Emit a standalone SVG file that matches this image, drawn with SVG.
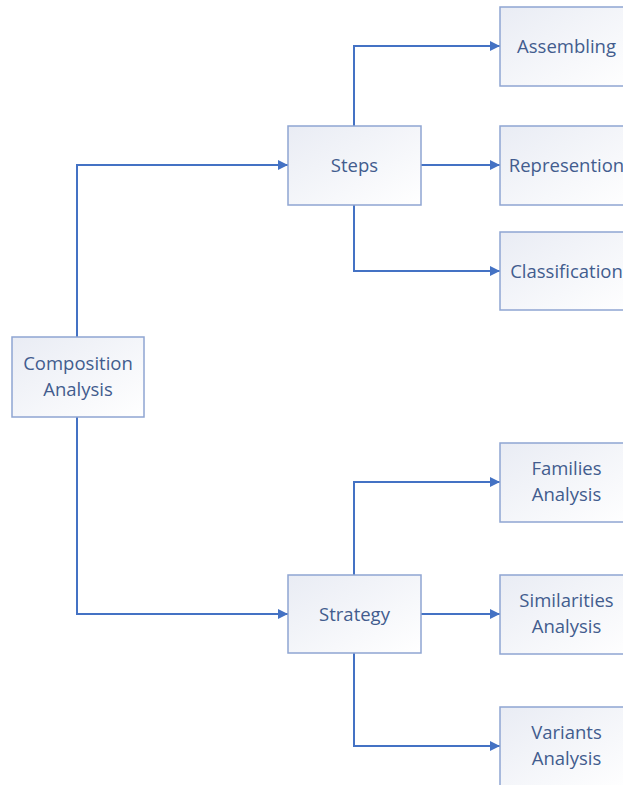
<svg xmlns="http://www.w3.org/2000/svg" width="623" height="785" viewBox="0 0 623 785">
  <defs>
    <linearGradient id="boxFill" x1="0" y1="0" x2="1" y2="1">
      <stop offset="0" stop-color="#E9ECF4"/>
      <stop offset="1" stop-color="#FFFFFF"/>
    </linearGradient>
    <marker id="arrow" viewBox="0 0 10 10" refX="10" refY="5" markerWidth="10" markerHeight="10" markerUnits="userSpaceOnUse" orient="auto">
      <path d="M0,0 L10,5 L0,10 Z" fill="#4472C4"/>
    </marker>
    <style>
      .box { fill: url(#boxFill); stroke: #8FA5D2; stroke-width: 1.5; }
      .lbl { font-family: "Open Sans", "Noto Sans", "Liberation Sans", sans-serif; font-size: 18.5px; fill: #425C8E; text-anchor: middle; }
      .wire { fill: none; stroke: #4472C4; stroke-width: 2; marker-end: url(#arrow); }
    </style>
  </defs>
  <rect width="623" height="785" fill="#FFFFFF"/>

  <g id="connectors">
    <path class="wire" d="M77,337 V165 H288"/>
    <path class="wire" d="M77,417 V614 H288"/>
    <path class="wire" d="M354,126 V46 H500"/>
    <path class="wire" d="M421,165 H500"/>
    <path class="wire" d="M354,205 V271 H500"/>
    <path class="wire" d="M354,575 V482 H500"/>
    <path class="wire" d="M421,614 H500"/>
    <path class="wire" d="M354,653 V746 H500"/>
  </g>

  <g id="composition-analysis">
    <rect class="box" x="12" y="337" width="132" height="80"/>
    <text class="lbl" x="78" y="370">Composition</text>
    <text class="lbl" x="78" y="396">Analysis</text>
  </g>

  <g id="steps">
    <rect class="box" x="288" y="126" width="133" height="79"/>
    <text class="lbl" x="354.5" y="172">Steps</text>
  </g>

  <g id="strategy">
    <rect class="box" x="288" y="575" width="133" height="78"/>
    <text class="lbl" x="354.5" y="621">Strategy</text>
  </g>

  <g id="assembling">
    <rect class="box" x="500" y="7" width="133" height="79"/>
    <text class="lbl" x="566.5" y="53">Assembling</text>
  </g>

  <g id="represention">
    <rect class="box" x="500" y="126" width="133" height="79"/>
    <text class="lbl" x="566.5" y="172">Represention</text>
  </g>

  <g id="classification">
    <rect class="box" x="500" y="232" width="133" height="78"/>
    <text class="lbl" x="566.5" y="278">Classification</text>
  </g>

  <g id="families-analysis">
    <rect class="box" x="500" y="443" width="133" height="79"/>
    <text class="lbl" x="566.5" y="475">Families</text>
    <text class="lbl" x="566.5" y="501">Analysis</text>
  </g>

  <g id="similarities-analysis">
    <rect class="box" x="500" y="575" width="133" height="79"/>
    <text class="lbl" x="566.5" y="607">Similarities</text>
    <text class="lbl" x="566.5" y="633">Analysis</text>
  </g>

  <g id="variants-analysis">
    <rect class="box" x="500" y="707" width="133" height="80"/>
    <text class="lbl" x="566.5" y="739">Variants</text>
    <text class="lbl" x="566.5" y="765">Analysis</text>
  </g>
</svg>
